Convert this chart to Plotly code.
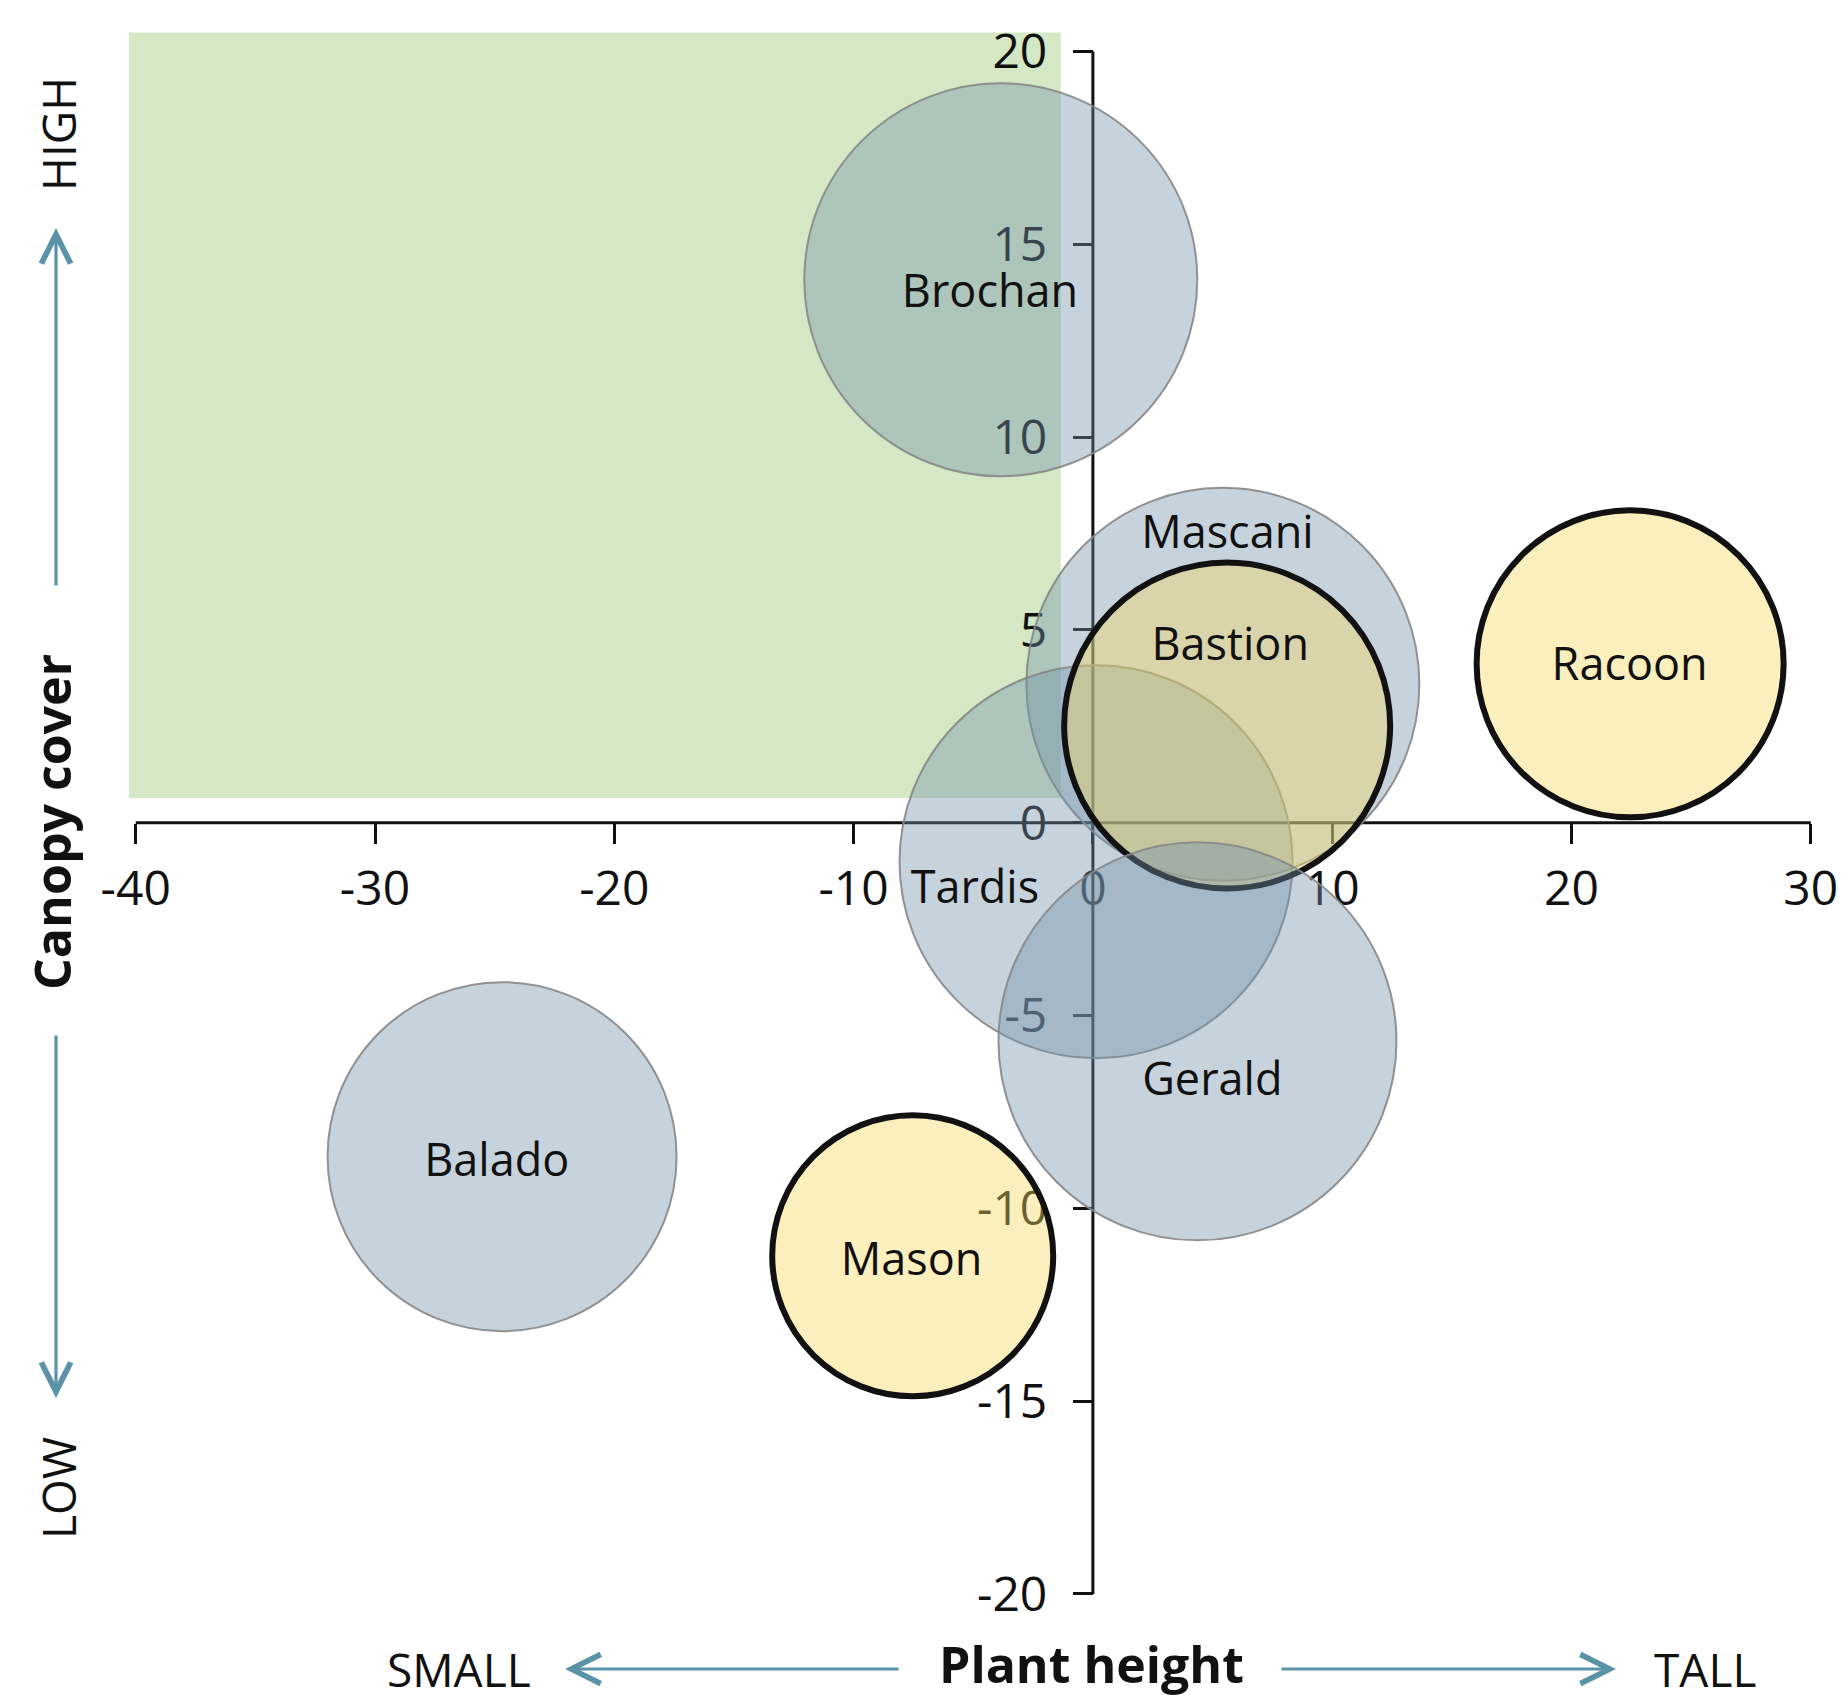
import plotly.graph_objects as go

# ---------------- data ----------------
names = ["Brochan", "Balado", "Mascani", "Tardis", "Bastion", "Gerald", "Mason", "Racoon"]
plant_height = [-3.85, -24.69, 5.43, 0.13, 5.61, 4.37, -7.53, 22.45]
canopy_cover = [14.08, -8.66, 3.59, -1.01, 2.52, -5.67, -11.23, 4.12]
bubble_size = [39.3, 34.9, 39.3, 39.3, 32.6, 39.8, 28.1, 30.7]
highlighted = [False, False, False, False, True, False, True, True]
label_x = [-4.30, -24.91, 5.62, -4.93, 5.74, 4.99, -7.58, 22.43]
label_y = [13.66, -8.86, 7.41, -1.78, 4.50, -6.76, -11.45, 4.00]

x_ticks = [-40, -30, -20, -10, 0, 10, 20, 30]
y_ticks = [-20, -15, -10, -5, 0, 5, 10, 15, 20]
quadrant_x = [-40.28, -1.34]
quadrant_y = [0.64, 20.49]

# ---------------- layout geometry ----------------
W, H = 1842, 1695
X_LO_PX, X_HI_PX = 135.7, 1810.8   # pixel of x=-40 and x=30
Y_HI_PX, Y_LO_PX = 51.5, 1593.9    # pixel of y=20 and y=-20
xscale = (X_HI_PX - X_LO_PX) / (x_ticks[-1] - x_ticks[0])
yscale = (Y_LO_PX - Y_HI_PX) / (y_ticks[-1] - y_ticks[0])
xmin = x_ticks[0] - X_LO_PX / xscale
xmax = x_ticks[-1] + (W - X_HI_PX) / xscale
ymax = y_ticks[-1] + Y_HI_PX / yscale
ymin = y_ticks[0] - (H - Y_LO_PX) / yscale


def px(x):
    return x / W


def py(y):
    return 1 - y / H


FONT = "Open Sans"
INK = "#111111"
ARROW = "#5a93a8"

grey_fill = "rgba(112,145,170,0.40)"
yellow_fill = "rgba(245,215,92,0.40)"

colors = [yellow_fill if h else grey_fill for h in highlighted]
line_colors = [INK if h else "rgba(135,135,135,0.9)" for h in highlighted]
line_widths = [6 if h else 2 for h in highlighted]

fig = go.Figure()

fig.add_trace(go.Scatter(
    x=plant_height, y=canopy_cover, mode="markers",
    marker=dict(size=bubble_size, sizemode="diameter", sizeref=0.1, opacity=1,
                color=colors, line=dict(color=line_colors, width=line_widths)),
    hoverinfo="text", hovertext=names, showlegend=False, cliponaxis=False,
))

fig.add_trace(go.Scatter(
    x=label_x, y=label_y, mode="text", text=names,
    textposition="middle center",
    textfont=dict(family=FONT, size=45, color=INK),
    hoverinfo="skip", showlegend=False, cliponaxis=False,
))

shapes = [
    dict(type="rect", xref="x", yref="y", x0=quadrant_x[0], x1=quadrant_x[1],
         y0=quadrant_y[0], y1=quadrant_y[1], fillcolor="#d5e8c5",
         line=dict(width=0), layer="below"),
    dict(type="line", xref="x", yref="y", x0=x_ticks[0], x1=x_ticks[-1], y0=0, y1=0,
         line=dict(color=INK, width=3), layer="below"),
    dict(type="line", xref="x", yref="y", x0=0, x1=0, y0=y_ticks[0], y1=y_ticks[-1],
         line=dict(color=INK, width=3), layer="below"),
]

annotations = []


def text_ann(text, x, y, size, angle=0, bold=False):
    annotations.append(dict(
        text=f"<b>{text}</b>" if bold else text, x=px(x), y=py(y),
        xref="paper", yref="paper", showarrow=False, textangle=angle,
        xanchor="center", yanchor="middle",
        font=dict(family=FONT, size=size, color=INK)))


def arrow_ann(tip, tail):
    annotations.append(dict(
        text="", x=px(tip[0]), y=py(tip[1]), xref="paper", yref="paper",
        ax=tail[0] - tip[0], ay=tail[1] - tip[1], axref="pixel", ayref="pixel",
        showarrow=True, arrowhead=5, arrowsize=1.8, arrowwidth=3.2,
        arrowcolor=ARROW, standoff=0, startstandoff=0))


text_ann("Canopy cover", 52, 822, 50, angle=-90, bold=True)
text_ann("HIGH", 58, 134, 46, angle=-90)
text_ann("LOW", 58, 1488, 46, angle=-90)
arrow_ann((56, 228), (56, 587))
arrow_ann((56, 1398), (56, 1034))

text_ann("Plant height", 1091, 1664, 50, bold=True)
text_ann("SMALL", 459, 1669, 46)
text_ann("TALL", 1705, 1669, 46)
arrow_ann((565, 1669), (900, 1669))
arrow_ann((1616, 1669), (1280, 1669))

fig.update_layout(
    width=W, height=H,
    margin=dict(l=0, r=0, t=0, b=0, pad=0),
    paper_bgcolor="white", plot_bgcolor="white",
    font=dict(family=FONT, color=INK),
    shapes=shapes, annotations=annotations,
    xaxis=dict(range=[xmin, xmax], domain=[0, 1], anchor="free",
               position=(0 - ymin) / (ymax - ymin), side="bottom",
               tickvals=x_ticks, ticktext=[str(v) for v in x_ticks],
               ticks="outside", ticklen=20, tickwidth=3, tickcolor=INK,
               ticklabelstandoff=4,
               showline=False, showgrid=False, zeroline=False,
               tickfont=dict(family=FONT, size=48, color=INK),
               layer="below traces", fixedrange=True),
    yaxis=dict(range=[ymin, ymax], domain=[0, 1], anchor="free",
               position=(0 - xmin) / (xmax - xmin), side="left",
               tickvals=y_ticks, ticktext=[str(v) for v in y_ticks],
               ticks="outside", ticklen=20, tickwidth=3, tickcolor=INK,
               ticklabelstandoff=16,
               showline=False, showgrid=False, zeroline=False,
               tickfont=dict(family=FONT, size=48, color=INK),
               layer="below traces", fixedrange=True),
)

fig.write_html("out.html", config={"displayModeBar": False},
               post_script="document.body.style.margin='0';document.body.style.padding='0';")
